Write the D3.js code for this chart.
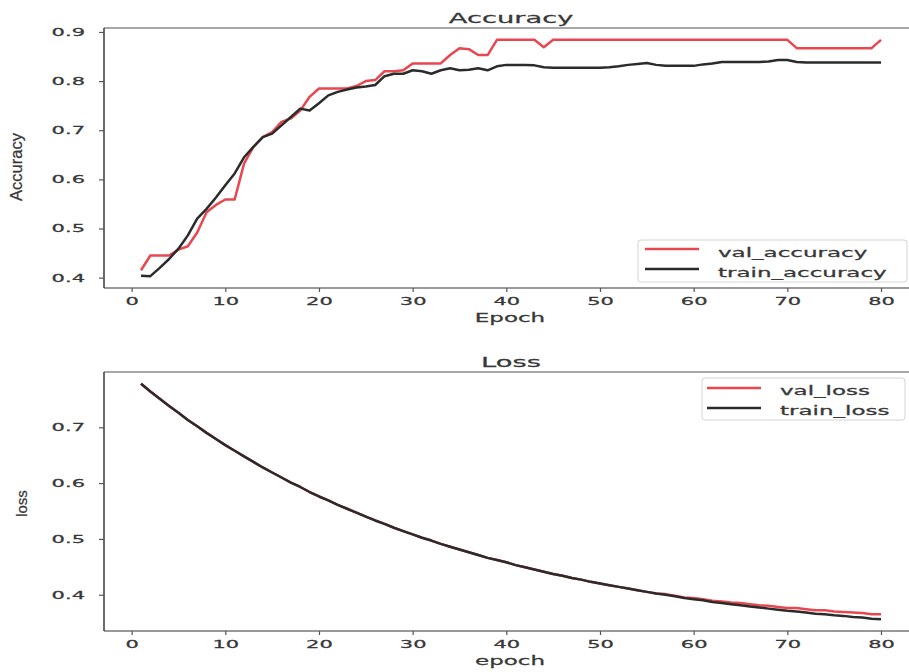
<!DOCTYPE html>
<html>
<head>
<meta charset="utf-8">
<script src="https://cdn.jsdelivr.net/npm/d3@7"></script>
<style>
  body { margin: 0; background: #fff; }
  svg { display: block; }
  text { font-family: "DejaVu Sans", sans-serif; fill: #383838; stroke: #383838; stroke-width: 0.25px; }
</style>
</head>
<body>
<div id="chart"></div>
<script>
// epochs 1..80
const epochs = d3.range(1, 81);

const valAccuracy = [
  0.415, 0.445, 0.445, 0.445, 0.457, 0.464, 0.492, 0.533, 0.548, 0.559,
  0.559, 0.632, 0.666, 0.686, 0.696, 0.717, 0.724, 0.740, 0.768, 0.785,
  0.785, 0.785, 0.785, 0.790, 0.800, 0.802, 0.820, 0.820, 0.822, 0.836,
  0.836, 0.836, 0.836, 0.853, 0.867, 0.865, 0.853, 0.853, 0.884, 0.884,
  0.884, 0.884, 0.884, 0.869, 0.884, 0.884, 0.884, 0.884, 0.884, 0.884,
  0.884, 0.884, 0.884, 0.884, 0.884, 0.884, 0.884, 0.884, 0.884, 0.884,
  0.884, 0.884, 0.884, 0.884, 0.884, 0.884, 0.884, 0.884, 0.884, 0.884,
  0.867, 0.867, 0.867, 0.867, 0.867, 0.867, 0.867, 0.867, 0.867, 0.884
];

const trainAccuracy = [
  0.404, 0.403, 0.420, 0.438, 0.459, 0.486, 0.520, 0.540, 0.563, 0.588,
  0.612, 0.645, 0.666, 0.686, 0.693, 0.710, 0.727, 0.744, 0.740, 0.755,
  0.771, 0.778, 0.783, 0.787, 0.789, 0.792, 0.810, 0.815, 0.815, 0.822,
  0.820, 0.815, 0.822, 0.826, 0.822, 0.823, 0.826, 0.822, 0.830, 0.833,
  0.833, 0.833, 0.832, 0.828, 0.827, 0.827, 0.827, 0.827, 0.827, 0.827,
  0.828, 0.830, 0.833, 0.835, 0.837, 0.833, 0.831, 0.831, 0.831, 0.831,
  0.834, 0.836, 0.839, 0.839, 0.839, 0.839, 0.839, 0.840, 0.843, 0.843,
  0.839, 0.838, 0.838, 0.838, 0.838, 0.838, 0.838, 0.838, 0.838, 0.838
];

const valLoss = [
  0.778, 0.764, 0.751, 0.738, 0.726, 0.713, 0.702, 0.690, 0.679, 0.668,
  0.658, 0.648, 0.638, 0.628, 0.619, 0.610, 0.601, 0.593, 0.584, 0.576,
  0.569, 0.561, 0.554, 0.547, 0.540, 0.533, 0.527, 0.520, 0.514, 0.508,
  0.502, 0.497, 0.491, 0.486, 0.481, 0.476, 0.471, 0.466, 0.462, 0.458,
  0.453, 0.449, 0.445, 0.441, 0.437, 0.434, 0.430, 0.427, 0.423, 0.420,
  0.417, 0.414, 0.411, 0.408, 0.405, 0.402, 0.401, 0.398, 0.395, 0.394,
  0.392, 0.389, 0.388, 0.386, 0.385, 0.383, 0.381, 0.380, 0.378, 0.376,
  0.376, 0.374, 0.372, 0.372, 0.370, 0.369, 0.368, 0.367, 0.365, 0.365
];

const trainLoss = [
  0.778, 0.764, 0.751, 0.738, 0.726, 0.713, 0.702, 0.690, 0.679, 0.668,
  0.658, 0.648, 0.638, 0.628, 0.619, 0.610, 0.601, 0.593, 0.584, 0.576,
  0.569, 0.561, 0.554, 0.547, 0.540, 0.533, 0.527, 0.520, 0.514, 0.508,
  0.502, 0.497, 0.491, 0.486, 0.481, 0.476, 0.471, 0.466, 0.462, 0.458,
  0.453, 0.449, 0.445, 0.441, 0.437, 0.434, 0.430, 0.427, 0.423, 0.420,
  0.417, 0.414, 0.411, 0.408, 0.405, 0.402, 0.400, 0.397, 0.394, 0.392,
  0.390, 0.387, 0.385, 0.383, 0.381, 0.379, 0.377, 0.375, 0.373, 0.371,
  0.370, 0.368, 0.366, 0.365, 0.363, 0.362, 0.360, 0.359, 0.357, 0.356
];

const xTicks = [0, 10, 20, 30, 40, 50, 60, 70, 80];
const accTicks = [0.4, 0.5, 0.6, 0.7, 0.8, 0.9];
const lossTicks = [0.4, 0.5, 0.6, 0.7];

const width = 909;
const height = 672;
const SX = 2.0; // the picture is stretched sideways
const RED = '#e8474f';
const DARK = '#2b2b2b';

const svg = d3.select('#chart').append('svg')
  .attr('width', width)
  .attr('height', height);

// widen text horizontally around its anchor point
function stretch(sel, sx) {
  sel.each(function () {
    const t = d3.select(this);
    const x = +t.attr('x') || 0;
    const y = +t.attr('y') || 0;
    t.attr('x', 0).attr('y', 0)
      .attr('transform', `translate(${x},${y}) scale(${sx},1)`);
  });
}

// matplotlib style 5% margins
function padded(ext) {
  const m = (ext[1] - ext[0]) * 0.05;
  return [ext[0] - m, ext[1] + m];
}

const x = d3.scaleLinear()
  .domain(padded(d3.extent(epochs)))
  .range([104, 918]);

function panel(opt) {
  const g = svg.append('g');
  const y = d3.scaleLinear()
    .domain(padded(d3.extent(opt.series[0].values.concat(opt.series[1].values))))
    .range([opt.bottom, opt.top]);

  // lines
  const line = d3.line()
    .x((d, i) => x(epochs[i]))
    .y((d) => y(d));
  opt.series.forEach((s) => {
    g.append('path')
      .datum(s.values)
      .attr('fill', 'none')
      .attr('stroke', s.color)
      .attr('stroke-width', 2.5)
      .attr('stroke-linejoin', 'round')
      .attr('d', line);
  });

  // spines
  g.append('line').attr('x1', 104).attr('x2', 918).attr('y1', opt.top).attr('y2', opt.top)
    .attr('stroke', '#8a8a8a').attr('stroke-width', 1.6);
  g.append('line').attr('x1', 104).attr('x2', 918).attr('y1', opt.bottom).attr('y2', opt.bottom)
    .attr('stroke', '#777').attr('stroke-width', 1.6);
  g.append('line').attr('x1', 104).attr('x2', 104).attr('y1', opt.top).attr('y2', opt.bottom)
    .attr('stroke', '#444').attr('stroke-width', 1.6);

  // axes
  const xAxis = g.append('g')
    .attr('transform', `translate(0,${opt.bottom})`)
    .call(d3.axisBottom(x).tickValues(xTicks).tickSize(4).tickFormat(d3.format('d')));
  xAxis.select('.domain').remove();
  xAxis.selectAll('line').attr('stroke', '#555').attr('stroke-width', 1.2);
  xAxis.selectAll('text')
    .attr('y', 17).attr('dy', null)
    .style('font-size', '10.5px');
  stretch(xAxis.selectAll('text'), SX);

  const yAxis = g.append('g')
    .attr('transform', 'translate(104,0)')
    .call(d3.axisLeft(y).tickValues(opt.yTicks).tickSize(5).tickFormat(d3.format('.1f')));
  yAxis.select('.domain').remove();
  yAxis.selectAll('line').attr('stroke', '#555').attr('stroke-width', 1.2);
  yAxis.selectAll('text')
    .attr('x', -19)
    .style('font-size', '10.5px');
  stretch(yAxis.selectAll('text'), SX);

  // title and x label
  const title = g.append('text')
    .attr('x', 511).attr('y', opt.top - 5)
    .attr('text-anchor', 'middle')
    .style('font-size', '14px')
    .text(opt.title);
  stretch(title, 1.95);

  const xl = g.append('text')
    .attr('x', 510).attr('y', opt.bottom + 34)
    .attr('text-anchor', 'middle')
    .style('font-size', '11.5px')
    .text(opt.xlabel);
  stretch(xl, SX);

  // y label, different font, not stretched
  g.append('text')
    .attr('transform', `translate(${opt.ylabelX},${(opt.top + opt.bottom) / 2 + opt.ylabelDy}) rotate(-90)`)
    .attr('text-anchor', 'middle')
    .style('font-family', '"Liberation Sans", Arial, sans-serif')
    .style('font-size', opt.ylabelSize + 'px')
    .text(opt.ylabel);

  // legend
  const lg = g.append('g').attr('transform', `translate(${opt.legend.x},${opt.legend.y})`);
  lg.append('rect')
    .attr('width', opt.legend.w).attr('height', 42)
    .attr('rx', 3)
    .attr('fill', '#fff').attr('fill-opacity', 0.85)
    .attr('stroke', '#d4d4d4').attr('stroke-width', 1);
  opt.series.forEach((s, i) => {
    lg.append('line')
      .attr('x1', opt.legend.lineX).attr('x2', opt.legend.lineX + 54)
      .attr('y1', opt.legend.lineY + i * 20).attr('y2', opt.legend.lineY + i * 20)
      .attr('stroke', s.color).attr('stroke-width', 2.5);
    const t = lg.append('text')
      .attr('x', opt.legend.textX).attr('y', 17 + i * 20)
      .style('font-size', '11.5px')
      .text(s.name);
    stretch(t, SX);
  });
}

panel({
  title: 'Accuracy',
  xlabel: 'Epoch',
  ylabel: 'Accuracy',
  ylabelX: 22, ylabelDy: 9, ylabelSize: 16.5,
  top: 28, bottom: 288,
  yTicks: accTicks,
  series: [
    { name: 'val_accuracy', values: valAccuracy, color: RED },
    { name: 'train_accuracy', values: trainAccuracy, color: DARK },
  ],
  legend: { x: 638, y: 240, w: 269, lineX: 7, lineY: 9, textX: 80 },
});

panel({
  title: 'Loss',
  xlabel: 'epoch',
  ylabel: 'loss',
  ylabelX: 27, ylabelDy: 2, ylabelSize: 15,
  top: 372, bottom: 631,
  yTicks: lossTicks,
  series: [
    { name: 'val_loss', values: valLoss, color: RED },
    { name: 'train_loss', values: trainLoss, color: DARK },
  ],
  legend: { x: 702, y: 378, w: 203, lineX: 5, lineY: 10, textX: 78 },
});
</script>
</body>
</html>
